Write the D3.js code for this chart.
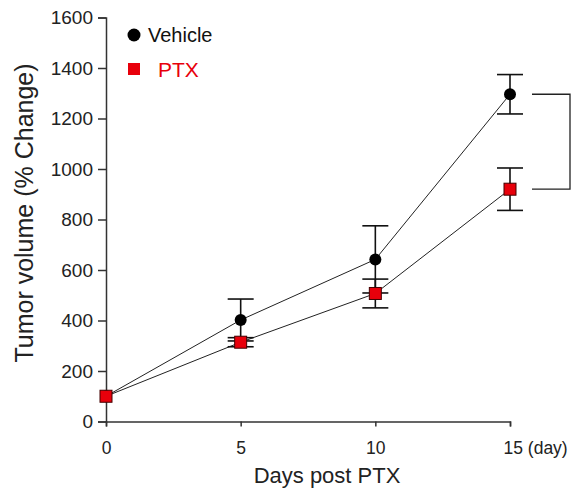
<!DOCTYPE html>
<html><head><meta charset="utf-8">
<script src="https://cdn.jsdelivr.net/npm/d3@7"></script>
<style>body{margin:0;background:#fff;} text{font-family:"Liberation Sans",Arial,sans-serif;}</style>
</head><body>
<svg id="c" width="571" height="493"></svg>
<script>
const days = [0, 5, 10, 15];
const vehicleMean = [100, 402, 642, 1296];
const vehicleErr = [0, 83, 133, 78];
const ptxMean = [100, 314, 507, 920];
const ptxErr = [0, 18, 57, 84];
const yTicks = [0, 200, 400, 600, 800, 1000, 1200, 1400, 1600];
const xTicks = [0, 5, 10, 15];
const xTickLabels = ["0", "5", "10", "15 (day)"];

const svg = d3.select("#c");
const x = d3.scaleLinear().domain([0, 15]).range([106, 510]);
const y = d3.scaleLinear().domain([0, 1600]).range([421.5, 17.5]);
const axisColor = "#333";

// Y axis
const ya = svg.append("g").attr("transform", "translate(106,0)")
  .call(d3.axisLeft(y).tickValues(yTicks).tickSize(8).tickPadding(5).tickFormat(d3.format("d")));
ya.select(".domain").attr("stroke", axisColor).attr("stroke-width", 1.5);
ya.selectAll(".tick line").attr("stroke", axisColor).attr("stroke-width", 1.5);
ya.selectAll(".tick text").attr("font-size", 19).attr("fill", "#222").attr("font-family", "Liberation Sans, Arial, sans-serif");

// X axis
const xa = svg.append("g").attr("transform", "translate(0,421.5)")
  .call(d3.axisBottom(x).tickValues(xTicks).tickSize(5).tickPadding(15).tickFormat((d, i) => xTickLabels[i]));
xa.select(".domain").attr("stroke", axisColor).attr("stroke-width", 1.5);
xa.selectAll(".tick line").attr("stroke", axisColor).attr("stroke-width", 1.5);
xa.selectAll(".tick text").attr("font-size", 17.5).attr("fill", "#222").attr("font-family", "Liberation Sans, Arial, sans-serif");
// "15 (day)" anchored so that "15" sits on the tick
xa.selectAll(".tick text").filter((d, i) => i === 3).attr("text-anchor", "start").attr("dx", -7);

// Axis labels
svg.append("text").attr("x", 327).attr("y", 483).attr("text-anchor", "middle")
  .attr("font-size", 22).attr("fill", "#222").text("Days post PTX");
svg.append("text").attr("transform", "translate(33,213) rotate(-90)").attr("text-anchor", "middle")
  .attr("font-size", 25).attr("fill", "#222").text("Tumor volume (% Change)");

const line = d3.line().x((d, i) => x(days[i])).y(d => y(d));

// Lines
svg.append("path").datum(vehicleMean).attr("d", line).attr("fill", "none").attr("stroke", "#222").attr("stroke-width", 1);
svg.append("path").datum(ptxMean).attr("d", line).attr("fill", "none").attr("stroke", "#222").attr("stroke-width", 1);

function errorBars(means, errs) {
  const g = svg.append("g").attr("stroke", "#111").attr("stroke-width", 1.6);
  days.forEach((d, i) => {
    if (!errs[i]) return;
    const cx = x(d), top = y(means[i] + errs[i]), bot = y(means[i] - errs[i]);
    g.append("line").attr("x1", cx).attr("x2", cx).attr("y1", top).attr("y2", bot);
    g.append("line").attr("x1", cx - 13).attr("x2", cx + 13).attr("y1", top).attr("y2", top);
    g.append("line").attr("x1", cx - 13).attr("x2", cx + 13).attr("y1", bot).attr("y2", bot);
  });
}
errorBars(vehicleMean, vehicleErr);
errorBars(ptxMean, ptxErr);

// Markers
svg.append("g").selectAll("circle").data(vehicleMean).join("circle")
  .attr("cx", (d, i) => x(days[i])).attr("cy", d => y(d)).attr("r", 6).attr("fill", "#000");
svg.append("g").selectAll("rect").data(ptxMean).join("rect")
  .attr("x", (d, i) => x(days[i]) - 6).attr("y", d => y(d) - 6).attr("width", 12).attr("height", 12)
  .attr("fill", "#e8000b").attr("stroke", "#400").attr("stroke-width", 1);

// Significance bracket
const last = days.length - 1;
svg.append("path")
  .attr("d", `M532,${y(vehicleMean[last])}H570V${y(ptxMean[last])}H532`)
  .attr("fill", "none").attr("stroke", "#222").attr("stroke-width", 1.3);

// Legend
svg.append("circle").attr("cx", 134).attr("cy", 35).attr("r", 6.5).attr("fill", "#000");
svg.append("text").attr("x", 148).attr("y", 42).attr("font-size", 20).attr("fill", "#111").text("Vehicle");
svg.append("rect").attr("x", 128).attr("y", 63).attr("width", 12).attr("height", 12).attr("fill", "#e8000b");
svg.append("text").attr("x", 158).attr("y", 77).attr("font-size", 21).attr("fill", "#e8000b").text("PTX");
</script>
</body></html>
